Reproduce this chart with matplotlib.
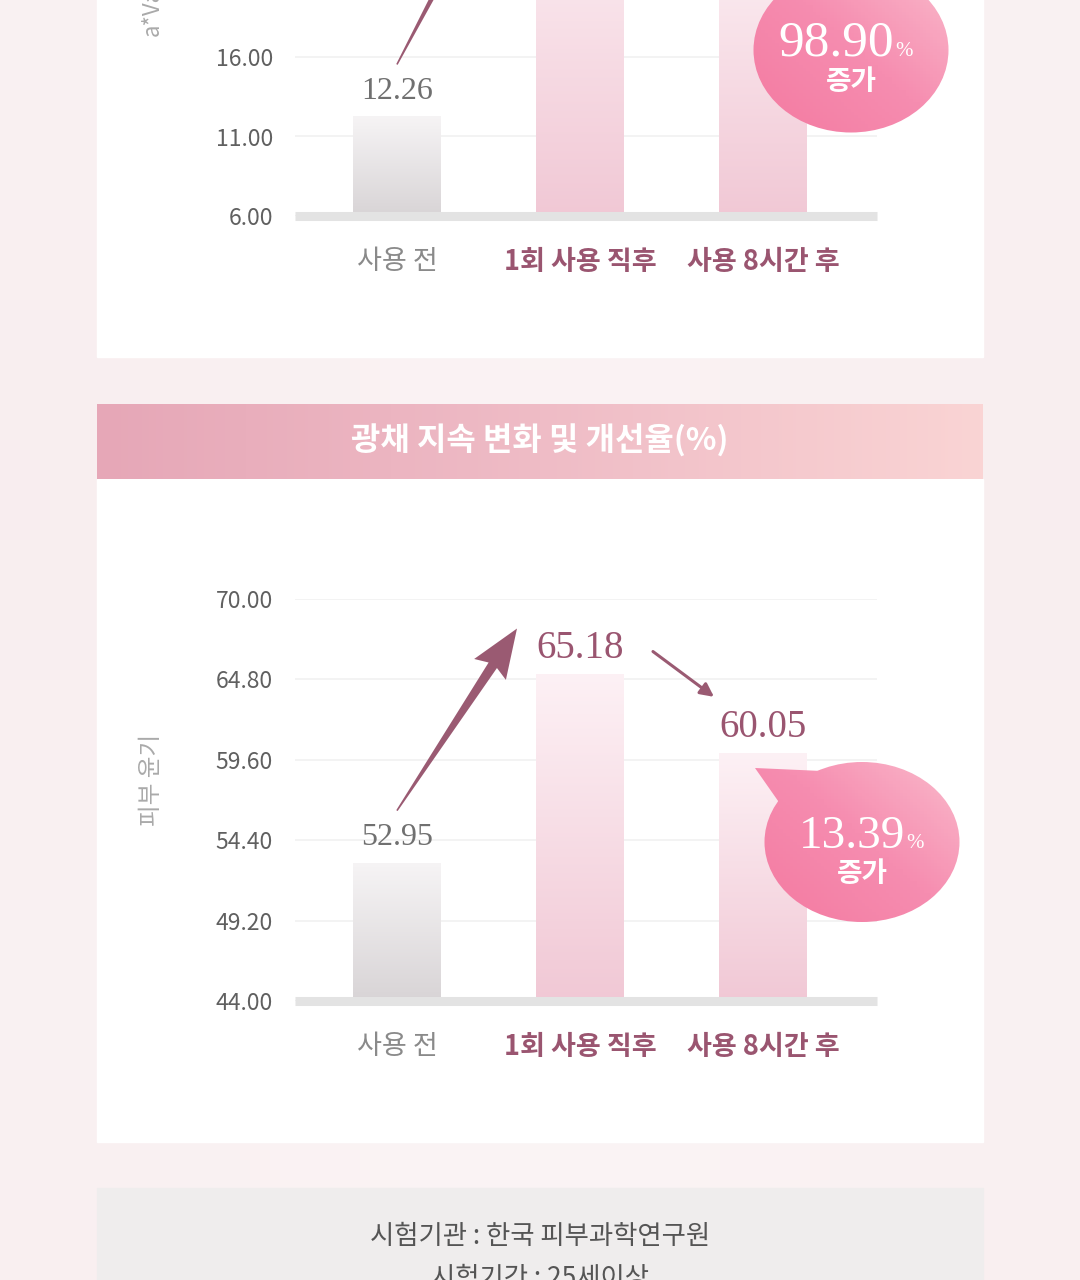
import numpy as np
import matplotlib.pyplot as plt
from matplotlib.patches import Rectangle, Ellipse, Polygon
from matplotlib.colors import LinearSegmentedColormap

plt.rcParams['font.family'] = ['Noto Sans CJK KR', 'DejaVu Sans']
SERIF = ['Liberation Serif', 'DejaVu Serif']

# ---- data ----
stages = ['사용 전', '1회 사용 직후', '사용 8시간 후']
tone_values = [12.26, 27.0, 24.39]          # last two bars run off the top edge
tone_ticks = [6.00, 11.00, 16.00]
tone_top = 31.0
tone_rate = '98.90'
tone_label = 'a*Value'
shine_values = [52.95, 65.18, 60.05]
shine_ticks = [44.00, 49.20, 54.40, 59.60, 64.80, 70.00]
shine_rate = '13.39'
shine_label = '피부 윤기'
title = '광채 지속 변화 및 개선율(%)'
footer = ['시험기관 : 한국 피부과학연구원', '시험기간 : 25세이상']

W, H = 1080, 1280
MAUVE = '#9a5570'

fig = plt.figure(figsize=(W / 100, H / 100), dpi=100)

# background layer in pixel coordinates
bg = fig.add_axes([0, 0, 1, 1], zorder=0)
bg.set_xlim(0, W)
bg.set_ylim(H, 0)
bg.axis('off')

xx = np.linspace(0, 1, 108)
yy = np.linspace(0, 1, 128)
X, Y = np.meshgrid(xx, yy)
pink = np.array([0.965, 0.905, 0.915])
white = np.array([0.99, 0.975, 0.975])
mix = (0.55 + 0.45 * np.cos(np.pi * X) ** 2) * (0.7 + 0.3 * np.sin(np.pi * Y * 1.3) ** 2)
img = white[None, None, :] * (1 - mix[..., None] * 0.6) + pink[None, None, :] * (mix[..., None] * 0.6)
bg.imshow(img, extent=(0, W, H, 0), aspect='auto', zorder=0)

bg.add_patch(Rectangle((97, -10), 886, 367, color='white', zorder=1))
bg.add_patch(Rectangle((97, 479), 886, 663, color='white', zorder=1))
bg.add_patch(Rectangle((97, 1188), 886, 110, color='#efeded', zorder=1))

band = LinearSegmentedColormap.from_list('band', ['#e6a7b7', '#efbcc6', '#fad4d4'])
bg.imshow(np.linspace(0, 1, 256).reshape(1, -1), cmap=band, extent=(97, 983, 479, 404),
          aspect='auto', zorder=2)
bg.text(540, 441, title, color='white', fontsize=23, fontweight='bold',
        ha='center', va='center', zorder=3)

bg.text(540, 1236, footer[0], color='#555555', fontsize=19, ha='center', va='center', zorder=3)
bg.text(540, 1278, footer[1], color='#555555', fontsize=19, ha='center', va='center', zorder=3)

bg.text(152, 36, tone_label, color='#aaaaaa', fontsize=16, rotation=90,
        rotation_mode='anchor', ha='left', va='center', zorder=3)
bg.text(152, 780, shine_label, color='#aaaaaa', fontsize=17, rotation=90,
        ha='center', va='center', zorder=3)

# overlay for arrows and bubbles
top = fig.add_axes([0, 0, 1, 1], zorder=3)
top.set_xlim(0, W)
top.set_ylim(H, 0)
top.patch.set_alpha(0)
top.axis('off')

gray_cm = LinearSegmentedColormap.from_list('g', ['#d8d4d6', '#f6f4f5'])
pink_cm = LinearSegmentedColormap.from_list('p', ['#f1c8d5', '#fdf1f5'])
bubble_cm = LinearSegmentedColormap.from_list('b', ['#f3789f', '#f68db0', '#fbc3d1'])


def chart(y_bot, y_top, ticks, ymax, values):
    x0, x1 = 295, 877
    ax = fig.add_axes([x0 / W, 1 - y_bot / H, (x1 - x0) / W, (y_bot - y_top) / H], zorder=1)
    ax.patch.set_alpha(0)
    bars = ax.bar(range(3), values, width=0.48, bottom=0, color='none')
    for i, (b, v) in enumerate(zip(bars, values)):
        cm = gray_cm if i == 0 else pink_cm
        im = ax.imshow(np.linspace(0, 1, 256).reshape(-1, 1), cmap=cm, origin='lower',
                       extent=(i - 0.24, i + 0.24, ticks[0], v), aspect='auto', zorder=2)
        im.set_clip_path(b)
    ax.set_xlim(-0.557, 2.623)
    ax.set_ylim(ticks[0], ymax)
    ax.set_yticks(ticks)
    ax.set_yticklabels([f'{t:.2f}' for t in ticks])
    ax.set_axisbelow(True)
    ax.yaxis.grid(True, color='#f1f1f1', lw=1.2)
    ax.axhline(ticks[0], color='#e3e3e3', lw=6.5, clip_on=False, zorder=3,
               solid_capstyle='butt')
    for s in ax.spines.values():
        s.set_visible(False)
    ax.tick_params(axis='y', length=0, pad=16, labelsize=16.5, labelcolor='#606060')
    ax.set_xticks(range(3))
    ax.set_xticklabels(stages)
    ax.tick_params(axis='x', length=0, pad=23, labelsize=19.5)
    for i, lbl in enumerate(ax.get_xticklabels()):
        lbl.set_color('#8a8a8a' if i == 0 else MAUVE)
        lbl.set_fontweight('normal' if i == 0 else 'bold')
    for i, v in enumerate(values):
        ax.annotate(f'{v:.2f}', (i, v), xytext=(0, 18), textcoords='offset points',
                    ha='center', va='center', family=SERIF,
                    fontsize=23 if i == 0 else 28,
                    color='#707070' if i == 0 else MAUVE, zorder=4)
    return ax


def to_px(ax, x, y, dx=0, dy=0):
    p = ax.transData.transform((x, y))
    bx, by = top.transData.inverted().transform(p)
    return np.array([bx + dx, by + dy])


def big_arrow(ax, values):
    tail = to_px(ax, 0, values[0], 0, -52)
    tip = to_px(ax, 0.656, values[1], 0, -45)
    u = (tip - tail) / np.linalg.norm(tip - tail)
    n = np.array([-u[1], u[0]])
    base = tip - u * 44
    pts = [tail + n * 0.8, base + n * 5, base - u * 5 + n * 19, tip,
           base - u * 5 - n * 19, base - n * 5, tail - n * 0.8]
    top.add_patch(Polygon(pts, closed=True, color='#9a5a72', lw=0, zorder=2))
    a = to_px(ax, 1, values[1], 73, -22)
    b = to_px(ax, 2, values[2], -49, -56)
    top.annotate('', xy=b, xytext=a,
                 arrowprops=dict(arrowstyle='-|>', color='#9a5a72', lw=2.2,
                                 mutation_scale=20, shrinkA=0, shrinkB=0))


def bubble(cx, cy, w, h, tail, rate, size):
    ext = (cx - w / 2 - 20, cx + w / 2 + 5, cy + h / 2 + 5, cy - h / 2 - 30)
    g = np.add.outer(np.linspace(0, 0.5, 64), np.linspace(0, 0.5, 64))
    g = g[::-1, :]
    e = Ellipse((cx, cy), w, h, color='none')
    top.add_patch(e)
    im = top.imshow(g, cmap=bubble_cm, extent=ext, aspect='auto', zorder=3, origin='upper')
    im.set_clip_path(e)
    if tail is not None:
        t = Polygon(tail, closed=True, color='none')
        top.add_patch(t)
        im2 = top.imshow(g, cmap=bubble_cm, extent=ext, aspect='auto', zorder=3, origin='upper')
        im2.set_clip_path(t)
    top.text(cx + 43, cy + 6, rate, family=SERIF, fontsize=size, color='white',
             ha='right', va='baseline', zorder=4)
    top.text(cx + 44, cy + 6, '%', family=SERIF, fontsize=15, color='white',
             ha='left', va='baseline', zorder=4)
    top.text(cx, cy + 32, '증가', fontsize=20, fontweight='bold', color='white',
             ha='center', va='center', zorder=4)


ax1 = chart(216, 216 - (tone_top - tone_ticks[0]) * 79.5 / 5, tone_ticks, tone_top, tone_values)
ax2 = chart(1001, 599, shine_ticks, shine_ticks[-1], shine_values)
big_arrow(ax1, tone_values)
big_arrow(ax2, shine_values)

bubble(851, 50, 195, 165, None, tone_rate, 37)
bubble(862, 842, 195, 160, [(755, 768), (822, 771), (783, 808)], shine_rate, 34)

top.set_xlim(0, W)
top.set_ylim(H, 0)

fig.savefig('out.png', dpi=100)
